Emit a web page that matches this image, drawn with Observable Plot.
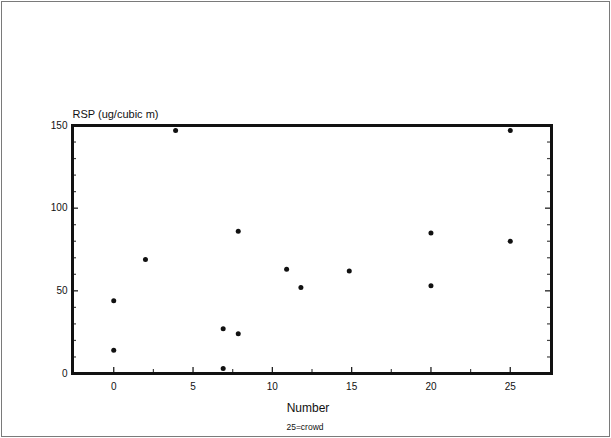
<!DOCTYPE html>
<html>
<head>
<meta charset="utf-8">
<script src="https://cdn.jsdelivr.net/npm/d3@7"></script>
<script src="https://cdn.jsdelivr.net/npm/@observablehq/plot@0.6"></script>
<style>
  html, body { margin: 0; padding: 0; background: #fff; }
  #wrap { position: relative; width: 611px; height: 438px; overflow: hidden; }
  #border { position: absolute; left: 1px; top: 1px; right: 1px; bottom: 1px; border: 1px solid #7a7a7a; pointer-events: none; }
  #wrap svg { position: absolute; left: 0; top: 0; }
</style>
</head>
<body>
<div id="wrap"><div id="border"></div></div>
<script>
const numbers = [0, 0, 2, 3.9, 6.9, 6.9, 7.85, 7.85, 10.9, 11.8, 14.85, 20, 20, 25, 25];
const rsp     = [44, 14, 69, 147, 27, 3, 24, 86, 63, 52, 62, 85, 53, 147, 80];
const xTicks = [0, 5, 10, 15, 20, 25];
const yTicks = [0, 50, 100, 150];
const xMinor = [2.5, 7.5, 12.5, 17.5, 22.5];
const yMinor = [10, 20, 30, 40, 60, 70, 80, 90, 110, 120, 130, 140];
const yTitle = "RSP (ug/cubic m)";
const xTitle = "Number";
const note = "25=crowd";

const data = numbers.map((n, i) => ({number: n, rsp: rsp[i]}));
const W = 611, H = 438, ML = 72, MR = 60, MT = 125, MB = 65;
const fw = W - ML - MR, fh = H - MT - MB;

const chart = Plot.plot({
  width: W,
  height: H,
  marginLeft: ML,
  marginRight: MR,
  marginTop: MT,
  marginBottom: MB,
  style: {fontFamily: "'Liberation Sans', Arial, sans-serif", fontSize: "10px", color: "#111", background: "transparent"},
  x: {domain: [-2.6, 27.6]},
  y: {domain: [0, 150]},
  marks: [
    Plot.axisX(xTicks, {tickSize: 0, tickPadding: 9, fontSize: 10, label: null}),
    Plot.axisY(yTicks, {tickSize: 0, tickPadding: 5, fontSize: 10, label: null}),
    // inward ticks: bottom (major and minor)
    Plot.tickX(xTicks, {x: d => d, insetTop: fh - 6, stroke: "#222", strokeWidth: 1.3}),
    Plot.tickX(xMinor, {x: d => d, insetTop: fh - 4, stroke: "#444", strokeWidth: 1.2}),
    // inward ticks: left
    Plot.tickY(yTicks, {y: d => d, insetRight: fw - 6, stroke: "#222", strokeWidth: 1.3}),
    Plot.tickY(yMinor, {y: d => d, insetRight: fw - 4, stroke: "#444", strokeWidth: 1.2}),
    // inward ticks: right
    Plot.tickY(yTicks, {y: d => d, insetLeft: fw - 6, stroke: "#222", strokeWidth: 1.3}),
    Plot.tickY(yMinor, {y: d => d, insetLeft: fw - 4, stroke: "#444", strokeWidth: 1.2}),
    Plot.frame({stroke: "#111", strokeWidth: 3}),
    Plot.dot(data, {x: "number", y: "rsp", r: 2.5, fill: "#111", stroke: null}),
    Plot.text([yTitle], {text: d => d, frameAnchor: "top-left", textAnchor: "start", lineAnchor: "bottom", dy: -8, fontSize: 11}),
    Plot.text([xTitle], {text: d => d, frameAnchor: "bottom", lineAnchor: "middle", dy: 35, dx: -4, fontSize: 12}),
    Plot.text([note], {text: d => d, frameAnchor: "bottom", lineAnchor: "middle", dy: 54, dx: -7, fontSize: 8.5})
  ]
});
document.getElementById("wrap").appendChild(chart);
</script>
</body>
</html>
